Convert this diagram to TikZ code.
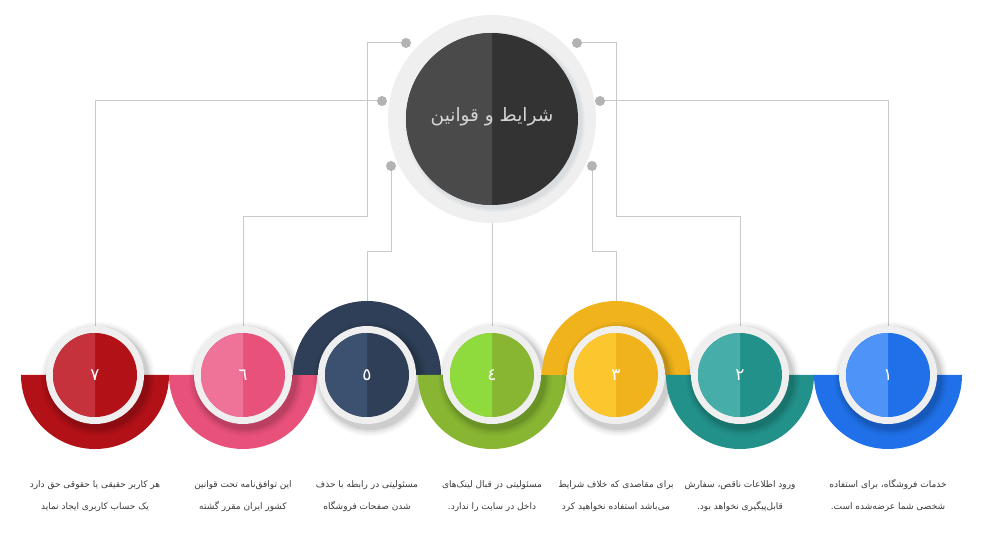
\documentclass[tikz,border=0pt]{standalone}
\usepackage{fontspec}
\newfontfamily\arabicfont[Script=Arabic]{DejaVu Sans}
\TeXXeTstate=1
\definecolor{lineg}{HTML}{C8C8C8}
\definecolor{dotg}{HTML}{B3B3B3}
\definecolor{ringg}{HTML}{EFEFEF}
\definecolor{darkL}{HTML}{4A4A4A}
\definecolor{darkR}{HTML}{333333}
\definecolor{titleg}{HTML}{D4D4D4}
\definecolor{txtg}{HTML}{3A3A3A}
\definecolor{shadowb}{HTML}{D3D9DC}
\definecolor{bL}{HTML}{4D93F8}\definecolor{bD}{HTML}{2071E9}
\definecolor{tL}{HTML}{47ADA9}\definecolor{tD}{HTML}{22918A}
\definecolor{yL}{HTML}{FCC62E}\definecolor{yD}{HTML}{F0B31B}
\definecolor{gL}{HTML}{8FDA3C}\definecolor{gD}{HTML}{88B632}
\definecolor{nL}{HTML}{3C5070}\definecolor{nD}{HTML}{2E3F57}
\definecolor{pL}{HTML}{EF7399}\definecolor{pD}{HTML}{E8517A}
\definecolor{rL}{HTML}{C5323B}\definecolor{rD}{HTML}{B11117}
\tikzset{
  conn/.style={draw=lineg, line width=1pt},
  dotnode/.style={circle, fill=dotg, minimum size=10pt, inner sep=0pt},
  ringnode/.style={circle, fill=ringg, minimum size=98pt, inner sep=0pt},
  numtext/.style={text=white, font=\arabicfont\fontsize{17}{20}\selectfont, inner sep=0pt},
  desc/.style={text=txtg, font=\arabicfont\fontsize{9}{11}\selectfont, inner sep=0pt},
  titletext/.style={text=titleg, font=\arabicfont\fontsize{18.5}{22}\selectfont, inner sep=0pt}
}
% #1 name, #2 x, #3 start angle of half disc (180 lower, 0 upper), #4 light, #5 dark, #6 number, #7 line 1, #8 line 2
\newcommand\stepitem[8]{%
  \fill[#5] (#2,375) -- ++(#3:74pt) arc[start angle=#3, delta angle=180, radius=74pt] -- cycle;
  \foreach \rr/\oo in {57/0.03,55/0.04,53/0.06,51/0.08}{
    \fill[black, opacity=\oo] ([shift={(3pt,-4pt)}]#2,375) circle[radius=\rr pt];
  }
  \node[ringnode] (#1) at (#2,375) {};
  \fill[#5] (#2,375) circle[radius=42pt];
  \fill[#4] (#2,375) -- ++(90:42pt) arc[start angle=90, delta angle=180, radius=42pt] -- cycle;
  \node[numtext] (#1n) at (#2,375) {#6};
  \node[desc] (#1a) at (#2,485) {#7};
  \node[desc] (#1b) at (#2,507) {#8};
}
\begin{document}
\begin{tikzpicture}[x=1pt, y=-1pt]
\useasboundingbox (0,0) rectangle (986,537);
\fill[white] (0,0) rectangle (986,537);
% coordinates
\coordinate (c1) at (888,375);
\coordinate (c2) at (740,375);
\coordinate (c3) at (616,375);
\coordinate (c4) at (492,375);
\coordinate (c5) at (367,375);
\coordinate (c6) at (243,375);
\coordinate (c7) at (95,375);
\coordinate (cc) at (492,119);
\coordinate (dTL) at (406,43);
\coordinate (dTR) at (577,43);
\coordinate (dML) at (382,101);
\coordinate (dMR) at (600,101);
\coordinate (dBL) at (391,166);
\coordinate (dBR) at (592,166);
% connectors
\draw[conn] (dML) -| (c7);
\draw[conn] (dTL) -- (367,43) -- (367,217) -| (c6);
\draw[conn] (dBL) -- (391,252) -| (c5);
\draw[conn] (cc) -- (c4);
\draw[conn] (dBR) -- (592,252) -| (c3);
\draw[conn] (dTR) -- (616,43) -- (616,217) -| (c2);
\draw[conn] (dMR) -| (c1);
% central circle
\node[circle, fill=ringg, minimum size=208pt, inner sep=0pt] (ring0) at (cc) {};
\foreach \rr/\oo in {90/0.25,88.5/0.35,87/0.5}{
  \fill[shadowb, opacity=\oo] ([shift={(3pt,-3pt)}]cc) circle[radius=\rr pt];
}
\fill[darkR] (cc) circle[radius=86pt];
\fill[darkL] (cc) -- ++(90:86pt) arc[start angle=90, delta angle=180, radius=86pt] -- cycle;
\node[titletext] (title) at (492,117) {\beginR شرایط و قوانین\endR};
% dots
\node[dotnode] (nTL) at (dTL) {};
\node[dotnode] (nTR) at (dTR) {};
\node[dotnode] (nML) at (dML) {};
\node[dotnode] (nMR) at (dMR) {};
\node[dotnode] (nBL) at (dBL) {};
\node[dotnode] (nBR) at (dBR) {};
% steps
\stepitem{s7}{95}{180}{rL}{rD}{٧}{\beginR هر کاربر حقیقی یا حقوقی حق دارد\endR}{\beginR یک حساب کاربری ایجاد نماید\endR}
\stepitem{s6}{243}{180}{pL}{pD}{٦}{\beginR این توافق‌نامه تحت قوانین\endR}{\beginR کشور ایران مقرر گشته\endR}
\stepitem{s5}{367}{0}{nL}{nD}{٥}{\beginR مسئولیتی در رابطه با حذف\endR}{\beginR شدن صفحات فروشگاه\endR}
\stepitem{s4}{492}{180}{gL}{gD}{٤}{\beginR مسئولیتی در قبال لینک‌های\endR}{\beginR داخل در سایت را ندارد.\endR}
\stepitem{s3}{616}{0}{yL}{yD}{٣}{\beginR برای مقاصدی که خلاف شرایط\endR}{\beginR می‌باشد استفاده نخواهید کرد\endR}
\stepitem{s2}{740}{180}{tL}{tD}{٢}{\beginR ورود اطلاعات ناقص، سفارش\endR}{\beginR قابل‌پیگیری نخواهد بود.\endR}
\stepitem{s1}{888}{180}{bL}{bD}{١}{\beginR خدمات فروشگاه، برای استفاده\endR}{\beginR شخصی شما عرضه‌شده است.\endR}
\end{tikzpicture}
\end{document}
